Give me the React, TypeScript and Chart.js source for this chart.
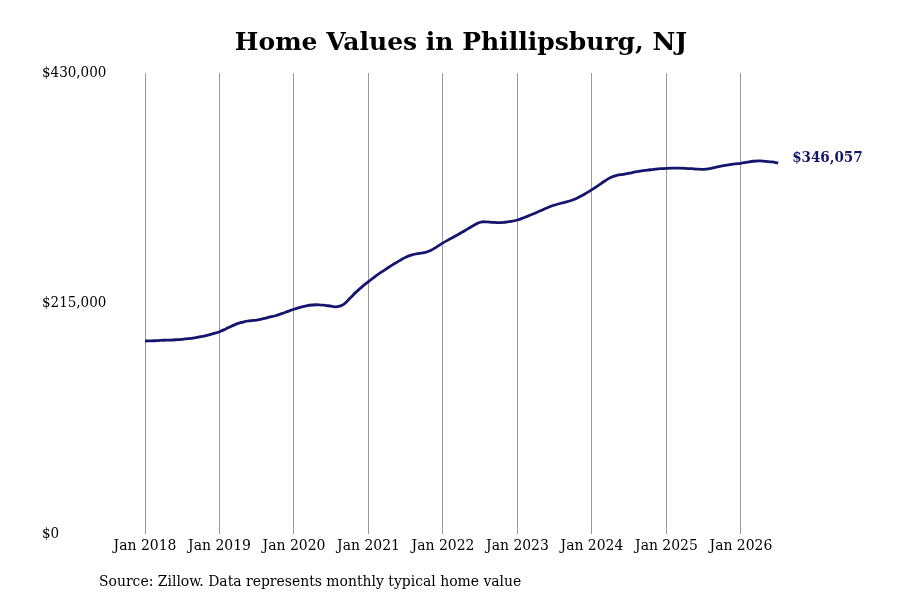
import React, { useEffect, useRef } from "react";
import { Chart, registerables } from "chart.js";

Chart.register(...registerables);

const TITLE = "Home Values in Phillipsburg, NJ";
const SOURCE = "Source: Zillow. Data represents monthly typical home value";
const END_LABEL = "$346,057";

// Monthly typical home values, Jan 2018 .. Jul 2026
const homeValues: number[] = [
  180000, 180200, 180400, 180700, 180900, 181200, 181600, 182200, 183000, 184000, 185300, 186900, 188700,
  191300, 194000, 196500, 198000, 198900, 199600, 200800, 202200, 203600, 205500, 207600, 209600,
  211400, 212900, 213600, 213800, 213300, 212500, 212000, 214200, 219800, 225600, 230800, 235400,
  239900, 244000, 247800, 251500, 255000, 258100, 260300, 261600, 262400, 264500, 267800, 271500,
  274800, 278000, 281200, 284600, 288000, 290800, 291200, 290700, 290400, 290800, 291500, 292900,
  295000, 297300, 299700, 302200, 304800, 306900, 308500, 310000, 311800, 314500, 317700, 321200,
  325000, 329000, 332600, 334600, 335500, 336500, 337800, 338800, 339500, 340200, 340800, 341100,
  341200, 341200, 341100, 340800, 340300, 340200, 340900, 342100, 343400, 344400, 345200, 345800,
  346800, 347700, 348000, 347500, 347000, 346057,
];

const xTickPositions: number[] = [0, 12, 24, 36, 48, 60, 72, 84, 96];
const xTickLabels: string[] = [
  "Jan 2018", "Jan 2019", "Jan 2020", "Jan 2021", "Jan 2022",
  "Jan 2023", "Jan 2024", "Jan 2025", "Jan 2026",
];
const yTickValues: number[] = [0, 215000, 430000];

const SERIF = '"DejaVu Serif Condensed", "DejaVu Serif", serif';
const LINE_COLOR = "#15156e";

const textPlugin = {
  id: "textPlugin",
  afterDraw(chart: any) {
    const { ctx, scales } = chart;
    ctx.save();
    // Title
    ctx.fillStyle = "#000";
    ctx.font = `bold 25px "DejaVu Serif", serif`;
    ctx.textAlign = "center";
    ctx.textBaseline = "middle";
    ctx.fillText(TITLE, 461, 43);
    // Source
    ctx.font = `15.5px ${SERIF}`;
    ctx.textAlign = "left";
    ctx.fillText(SOURCE, 99, 582);
    // End label
    const last = homeValues.length - 1;
    const px = scales.x.getPixelForValue(last);
    const py = scales.y.getPixelForValue(homeValues[last]);
    ctx.fillStyle = LINE_COLOR;
    ctx.font = `bold 15px ${SERIF}`;
    ctx.fillText(END_LABEL, px + 14, py - 5);
    ctx.restore();
  },
};

export default function App() {
  const ref = useRef<HTMLCanvasElement>(null);
  useEffect(() => {
    document.body.style.margin = "0";
    const chart = new Chart(ref.current!, {
      type: "line",
      data: {
        datasets: [
          {
            data: homeValues.map((v, i) => ({ x: i, y: v })),
            borderColor: LINE_COLOR,
            borderWidth: 2.8,
            pointRadius: 0,
            tension: 0.4,
            fill: false,
          },
        ],
      },
      options: {
        animation: false,
        responsive: false,
        layout: { padding: { top: 73, left: 42, right: 20, bottom: 36 } },
        plugins: { legend: { display: false }, title: { display: false }, tooltip: { enabled: false } },
        scales: {
          x: {
            type: "linear",
            min: 0,
            max: 118.4,
            border: { display: false },
            grid: { color: "#999999", lineWidth: 1, drawTicks: false },
            afterBuildTicks: (scale: any) => {
              scale.ticks = xTickPositions.map((v) => ({ value: v }));
            },
            afterFit: (scale: any) => {
              scale.height = 30;
            },
            ticks: {
              padding: 3,
              maxRotation: 0,
              autoSkip: false,
              color: "#000",
              font: { family: SERIF, size: 15.5 },
              callback: (v: any) => {
                const idx = xTickPositions.indexOf(Number(v));
                return idx >= 0 ? xTickLabels[idx] : "";
              },
            },
          },
          y: {
            min: 0,
            max: 430000,
            border: { display: false },
            grid: { display: false },
            afterBuildTicks: (scale: any) => {
              scale.ticks = yTickValues.map((v) => ({ value: v }));
            },
            afterFit: (scale: any) => {
              scale.width = 103;
            },
            ticks: {
              crossAlign: "far",
              color: "#000",
              font: { family: SERIF, size: 15 },
              callback: (v: any) => "$" + Number(v).toLocaleString("en-US"),
            },
          },
        },
      },
      plugins: [textPlugin],
    });
    return () => chart.destroy();
  }, []);
  return <canvas ref={ref} width={900} height={600} style={{ display: "block" }} />;
}
